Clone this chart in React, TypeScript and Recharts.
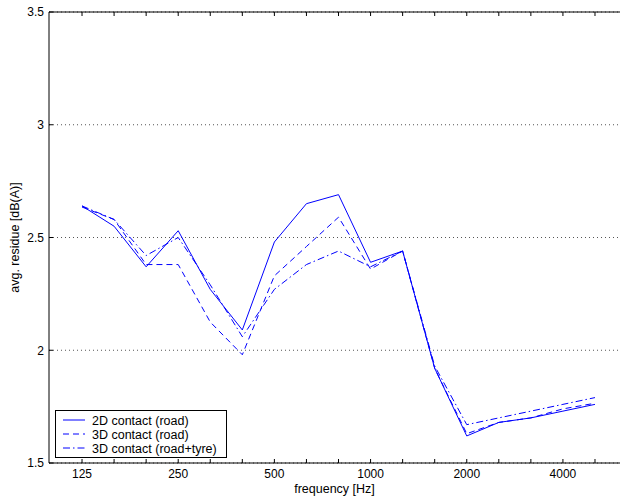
import React from 'react';
import { LineChart, Line, XAxis, YAxis, CartesianGrid, Legend } from 'recharts';

const frequencies = [125, 160, 200, 250, 315, 400, 500, 630, 800, 1000, 1250, 1600, 2000, 2500, 3150, 4000, 5000];
const labeledFrequencies = [125, 250, 500, 1000, 2000, 4000];
const contact2DRoad = [2.64, 2.55, 2.37, 2.53, 2.27, 2.09, 2.48, 2.65, 2.69, 2.39, 2.44, 1.92, 1.62, 1.68, 1.70, 1.73, 1.76];
const contact3DRoad = [2.635, 2.58, 2.38, 2.38, 2.125, 1.98, 2.33, 2.46, 2.59, 2.36, 2.44, 1.92, 1.63, 1.68, 1.70, 1.74, 1.765];
const contact3DRoadTyre = [2.64, 2.58, 2.42, 2.50, 2.29, 2.06, 2.27, 2.38, 2.44, 2.37, 2.44, 1.93, 1.67, 1.70, 1.73, 1.76, 1.79];
const yTicks = [1.5, 2, 2.5, 3, 3.5];
const seriesNames = ['2D contact (road)', '3D contact (road)', '3D contact (road+tyre)'];

const data = frequencies.map((f, i) => ({
  idx: i,
  freq: f,
  a: contact2DRoad[i],
  b: contact3DRoad[i],
  c: contact3DRoadTyre[i],
}));
const xTicks = frequencies.map((_, i) => i);

const FONT = '"Liberation Sans", Arial, Helvetica, sans-serif';
const BLUE = '#0000ff';
const DASH = '6 4';
const DASHDOT = '7 3 1.5 3';

function LegendBox() {
  const rows = [
    { name: seriesNames[0], dash: undefined as string | undefined },
    { name: seriesNames[1], dash: DASH },
    { name: seriesNames[2], dash: DASHDOT },
  ];
  return (
    <svg width={172} height={48} style={{ display: 'block' }}>
      <rect x={0.5} y={0.5} width={171} height={47} fill="#fff" stroke="#000" strokeWidth={1} />
      {rows.map((r, i) => {
        const y = 10 + i * 14;
        return (
          <g key={r.name}>
            <line x1={8} x2={30} y1={y} y2={y} stroke={BLUE} strokeWidth={1} strokeDasharray={r.dash} />
            <text x={37} y={y + 4.5} fontFamily={FONT} fontSize={12.5} fill="#000">{r.name}</text>
          </g>
        );
      })}
    </svg>
  );
}

export default function App() {
  return (
    <div style={{ position: 'absolute', left: 0, top: 0, width: 620, height: 497, background: '#fff' }}>
      <LineChart width={620} height={497} data={data} margin={{ top: 0, right: 0, bottom: 0, left: 0 }}>
        <CartesianGrid xAxisId="bottom" vertical={false} stroke="#555" strokeDasharray="1 3" />
        <XAxis
          xAxisId="bottom"
          dataKey="idx"
          type="number"
          domain={[-1.03, 16.78]}
          allowDataOverflow
          ticks={xTicks}
          interval={0}
          height={34}
          tickSize={-4}
          tickMargin={10}
          axisLine={{ stroke: '#000', strokeWidth: 1 }}
          tickLine={{ stroke: '#000', strokeWidth: 1 }}
          tick={{ fill: '#000', fontSize: 12, fontFamily: FONT }}
          tickFormatter={(v: number) => (labeledFrequencies.includes(frequencies[v]) ? String(frequencies[v]) : '')}
          label={{ value: 'frequency [Hz]', position: 'insideBottom', offset: 4, fill: '#000', fontSize: 12.5, fontFamily: FONT }}
        />
        <XAxis
          xAxisId="top"
          orientation="top"
          dataKey="idx"
          type="number"
          domain={[-1.03, 16.78]}
          allowDataOverflow
          ticks={xTicks}
          interval={0}
          height={12}
          tickSize={-4}
          axisLine={{ stroke: '#000', strokeWidth: 1 }}
          tickLine={{ stroke: '#000', strokeWidth: 1 }}
          tickFormatter={() => ''}
        />
        <YAxis
          type="number"
          domain={[1.5, 3.5]}
          ticks={yTicks}
          interval={0}
          width={49}
          tickSize={-4}
          tickMargin={9}
          axisLine={{ stroke: '#000', strokeWidth: 1 }}
          tickLine={{ stroke: '#000', strokeWidth: 1 }}
          tick={{ fill: '#000', fontSize: 12, fontFamily: FONT }}
          tickFormatter={(v: number) => String(v)}
          label={{ value: 'avg. residue [dB(A)]', angle: -90, position: 'insideLeft', offset: 15, fill: '#000', fontSize: 12.5, fontFamily: FONT, style: { textAnchor: 'middle' } }}
        />
        <Line xAxisId="bottom" type="linear" dataKey="a" name={seriesNames[0]} stroke={BLUE} strokeWidth={1} dot={false} activeDot={false} isAnimationActive={false} />
        <Line xAxisId="bottom" type="linear" dataKey="b" name={seriesNames[1]} stroke={BLUE} strokeWidth={1} strokeDasharray={DASH} dot={false} activeDot={false} isAnimationActive={false} />
        <Line xAxisId="bottom" type="linear" dataKey="c" name={seriesNames[2]} stroke={BLUE} strokeWidth={1} strokeDasharray={DASHDOT} dot={false} activeDot={false} isAnimationActive={false} />
        <Legend
          layout="vertical"
          align="center"
          verticalAlign="middle"
          wrapperStyle={{ position: 'absolute', left: 55, top: 410, width: 172, height: 48 }}
          content={() => <LegendBox />}
        />
      </LineChart>
    </div>
  );
}
